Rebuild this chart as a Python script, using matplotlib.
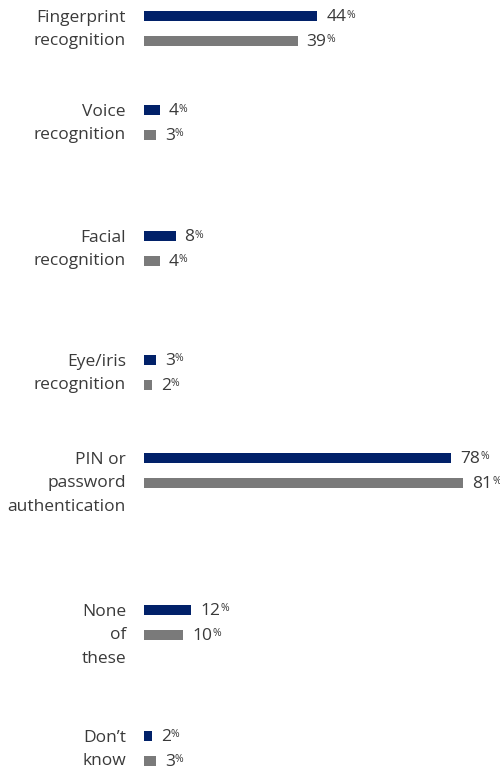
import matplotlib
matplotlib.use('Agg')
import matplotlib.pyplot as plt

plt.rcParams['font.family'] = ['Open Sans', 'DejaVu Sans']

# Data
categories = ['Fingerprint\nrecognition', 'Voice\nrecognition', 'Facial\nrecognition',
              'Eye/iris\nrecognition', 'PIN or\npassword\nauthentication',
              'None\nof\nthese', 'Don\u2019t\nknow']
series_a = [44, 4, 8, 3, 78, 12, 2]
series_b = [39, 3, 4, 2, 81, 10, 3]

NAVY = '#012169'
GRAY = '#7a7a7a'
TEXT = '#3a3a3a'

# layout (pixel rows, top down)
W, H = 500, 773
row_top = [16, 110, 236, 360, 458, 610, 736]
pair_gap = 25
bar_h = 10
x0 = 144
px_per_unit = 3.94

fig = plt.figure(figsize=(W / 100, H / 100), dpi=100)
ax = fig.add_axes([x0 / W, 0, 1 - x0 / W, 1])
ax.set_xlim(0, (W - x0) / px_per_unit)
ax.set_ylim(H, 0)
ax.axis('off')

ya = row_top
yb = [y + pair_gap for y in row_top]
ax.barh(ya, series_a, height=bar_h, color=NAVY)
ax.barh(yb, series_b, height=bar_h, color=GRAY)

fs = 12.5
for y, lab in zip(ya, categories):
    ax.text(-18 / px_per_unit, y - 6, lab, ha='right', va='top', fontsize=fs,
            color=TEXT, linespacing=1.62)

fig.canvas.draw()
r = fig.canvas.get_renderer()
for ys, vals in ((ya, series_a), (yb, series_b)):
    for y, v in zip(ys, vals):
        t = ax.text(v + 9 / px_per_unit, y + 1, str(v), ha='left', va='center',
                    fontsize=fs, color=TEXT)
        bb = t.get_window_extent(r)
        xe = ax.transData.inverted().transform((bb.x1, bb.y1))
        ax.text(xe[0], xe[1] + 0.5, '%', ha='left', va='top', fontsize=7.5, color=TEXT)

fig.savefig('out.png', dpi=100)
